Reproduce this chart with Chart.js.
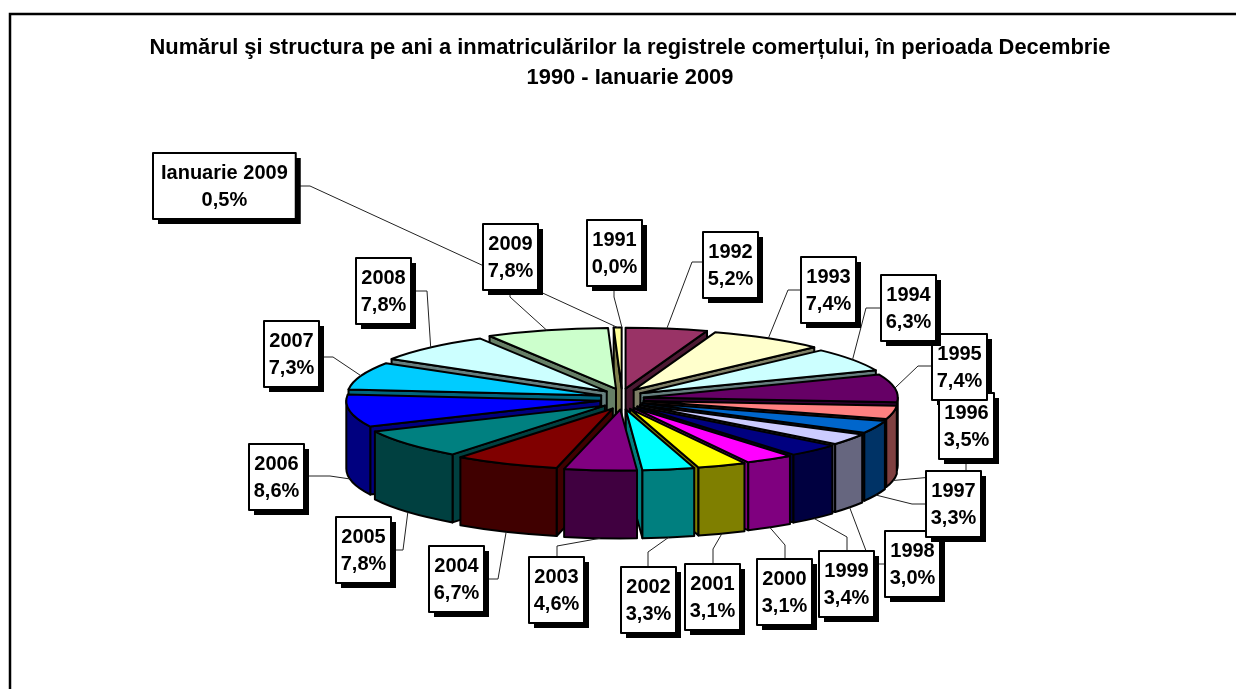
<!DOCTYPE html>
<html>
<head>
<meta charset="utf-8">
<title>Inmatriculari</title>
<script src="https://cdn.jsdelivr.net/npm/chart.js@4"></script>
<style>
    html, body { margin: 0; padding: 0; background: #fff; }
    canvas { display: block; }
</style>
</head>
<body>
<canvas id="pie" width="1236" height="689"></canvas>
<script>
// date
const titleLines = [
    'Numărul şi structura pe ani a inmatriculărilor la registrele comerțului, în perioada Decembrie',
    '1990 - Ianuarie 2009'
];
const years = ['1991', '1992', '1993', '1994', '1995', '1996', '1997', '1998', '1999', '2000',
    '2001', '2002', '2003', '2004', '2005', '2006', '2007', '2008', '2009', 'Ianuarie 2009'];
const shares = [0.0, 5.2, 7.4, 6.3, 7.4, 3.5, 3.3, 3.0, 3.4, 3.1,
    3.1, 3.3, 4.6, 6.7, 7.8, 8.6, 7.3, 7.8, 7.8, 0.5];
const sliceColors = ['#FF99CC', '#993366', '#FFFFCC', '#CCFFFF', '#660066', '#FF8080', '#0066CC', '#CCCCFF', '#000080', '#FF00FF',
    '#FFFF00', '#00FFFF', '#800080', '#800000', '#008080', '#0000FF', '#00CCFF', '#CCFFFF', '#CCFFCC', '#FFFF99'];

// asezarea etichetelor: coltul stanga-sus al casetei si cotul liniei
const calloutBoxes = [[587, 220], [703, 232], [801, 257], [881, 275], [932, 334], [939, 393], [926, 471], [885, 531], [819, 551], [757, 559],
    [685, 564], [621, 567], [529, 557], [429, 546], [336, 517], [249, 444], [264, 321], [356, 258], [483, 224], [153, 153]];
const calloutElbows = [[614, 297], [692, 262], [788, 290], [866, 308], [918, 366], [966, 474], [912, 504], [871, 564], [847, 537], [785, 545],
    [713, 549], [648, 552], [557, 546], [498, 579], [403, 550], [330, 476], [333, 357], [427, 291], [510, 297], [310, 186]];
// casetele care stau sub celelalte, in ordinea desenarii
const boxesBelow = [5, 4, 3, 7];
// umbra casetei 1995 ramane sub caseta 1996
const shadowFirst = [4];

// geometria 3D
const center = { x: 622, y: 399 };
const squash = 0.24;
const depth = 68;
const explode = 22;
const explodeY = 10.5;
const boxH = 66;
const labelFont = 'bold 20px "Liberation Sans"';

function halfColor(hex) {
    const n = parseInt(hex.slice(1), 16);
    const r = (n >> 16) >> 1, g = ((n >> 8) & 255) >> 1, b = (n & 255) >> 1;
    return 'rgb(' + r + ',' + g + ',' + b + ')';
}

function sliceOrigin(arc) {
    const mid = (arc.startAngle + arc.endAngle) / 2;
    return { x: center.x + Math.cos(mid) * explode, y: center.y + Math.sin(mid) * explodeY, mid: mid };
}

function drawSlice(ctx, arc, color) {
    const o = sliceOrigin(arc);
    const R = arc.outerRadius, ry = R * squash;
    const start = arc.startAngle, end = arc.endAngle;
    if (end - start <= 0) return;

    ctx.lineWidth = 2;
    ctx.lineJoin = 'round';
    ctx.strokeStyle = '#000';
    ctx.fillStyle = halfColor(color);

    // fetele taieturii, doar cele vazute
    [[start, Math.sin(start - Math.PI / 2)], [end, Math.sin(end + Math.PI / 2)]].forEach(function(face) {
        if (face[1] <= 0) return;
        const px = o.x + Math.cos(face[0]) * R, py = o.y + Math.sin(face[0]) * ry;
        ctx.beginPath();
        ctx.moveTo(o.x, o.y);
        ctx.lineTo(px, py);
        ctx.lineTo(px, py + depth);
        ctx.lineTo(o.x, o.y + depth);
        ctx.closePath();
        ctx.fill();
        ctx.stroke();
    });

    // peretele exterior
    const a0 = Math.max(start, 0), a1 = Math.min(end, Math.PI);
    if (a1 > a0) {
        ctx.beginPath();
        ctx.ellipse(o.x, o.y, R, ry, 0, a0, a1);
        ctx.ellipse(o.x, o.y + depth, R, ry, 0, a1, a0, true);
        ctx.closePath();
        ctx.fill();
        ctx.stroke();
    }

    // fata de sus
    ctx.save();
    ctx.translate(o.x, o.y);
    ctx.scale(1, squash);
    ctx.translate(-arc.x, -arc.y);
    arc.draw(ctx);
    ctx.restore();

    ctx.beginPath();
    ctx.moveTo(o.x, o.y);
    ctx.ellipse(o.x, o.y, R, ry, 0, start, end);
    ctx.closePath();
    ctx.stroke();
}

function drawCallout(ctx, arc, i) {
    const o = sliceOrigin(arc);
    const R = arc.outerRadius;
    const ax = o.x + Math.cos(o.mid) * R;
    const ay = o.y + Math.sin(o.mid) * R * squash + (Math.sin(o.mid) > 0 ? depth : 0);

    ctx.font = labelFont;
    const textW = ctx.measureText(years[i]).width;
    const w = textW > 55 ? textW + 16 : 55;
    const bx = calloutBoxes[i][0], by = calloutBoxes[i][1];
    const ex = calloutElbows[i][0], ey = calloutElbows[i][1];

    ctx.lineWidth = 1;
    ctx.strokeStyle = '#222';
    ctx.beginPath();
    ctx.moveTo(ax, ay);
    ctx.lineTo(ex, ey);
    ctx.lineTo(Math.min(Math.max(ex, bx), bx + w), Math.min(Math.max(ey, by), by + boxH));
    ctx.stroke();
    return { x: bx, y: by, w: w };
}

function drawShadow(ctx, box) {
    ctx.fillStyle = '#000';
    ctx.fillRect(box.x + 5, box.y + 5, box.w, boxH);
}

function drawBox(ctx, box, i) {
    if (shadowFirst.indexOf(i) < 0) drawShadow(ctx, box);
    ctx.fillStyle = '#fff';
    ctx.fillRect(box.x, box.y, box.w, boxH);
    ctx.lineWidth = 2;
    ctx.strokeStyle = '#000';
    ctx.strokeRect(box.x, box.y, box.w, boxH);

    ctx.fillStyle = '#000';
    ctx.font = labelFont;
    ctx.textAlign = 'center';
    ctx.textBaseline = 'middle';
    ctx.fillText(years[i], box.x + box.w / 2, box.y + 20.5);
    ctx.fillText(shares[i].toFixed(1).replace('.', ',') + '%', box.x + box.w / 2, box.y + 47);
}

const pie3d = {
    id: 'pie3d',
    beforeDraw: function(chart) {
        const ctx = chart.ctx;
        ctx.save();
        ctx.strokeStyle = '#000';
        ctx.lineWidth = 2.5;
        ctx.beginPath();
        ctx.moveTo(10, 689);
        ctx.lineTo(10, 14);
        ctx.lineTo(1236, 14);
        ctx.stroke();
        ctx.restore();
    },
    beforeDatasetDraw: function(chart) {
        const ctx = chart.ctx;
        const arcs = chart.getDatasetMeta(0).data;
        const order = arcs.map(function(a, i) { return i; });
        order.sort(function(a, b) {
            return Math.sin((arcs[a].startAngle + arcs[a].endAngle) / 2) - Math.sin((arcs[b].startAngle + arcs[b].endAngle) / 2);
        });
        ctx.save();
        order.forEach(function(i) { drawSlice(ctx, arcs[i], sliceColors[i]); });
        const boxes = arcs.map(function(arc, i) { return drawCallout(ctx, arc, i); });
        shadowFirst.forEach(function(i) { drawShadow(ctx, boxes[i]); });
        boxesBelow.forEach(function(i) { drawBox(ctx, boxes[i], i); });
        boxes.forEach(function(box, i) {
            if (boxesBelow.indexOf(i) < 0) drawBox(ctx, box, i);
        });
        ctx.restore();
        return false;
    }
};

new Chart(document.getElementById('pie'), {
    type: 'pie',
    data: {
        labels: years,
        datasets: [{
            data: shares,
            backgroundColor: sliceColors,
            borderWidth: 0,
        }]
    },
    options: {
        responsive: false,
        animation: false,
        events: [],
        radius: 254,
        layout: { padding: { left: 24 } },
        plugins: {
            legend: { display: false },
            tooltip: { enabled: false },
            title: {
                display: true,
                text: titleLines,
                color: '#000',
                font: { family: '"Liberation Sans"', size: 21.9, weight: 'bold', lineHeight: 1.37 },
                padding: { top: 33, bottom: 0 },
            },
        }
    },
    plugins: [pie3d]
});
</script>
</body>
</html>
